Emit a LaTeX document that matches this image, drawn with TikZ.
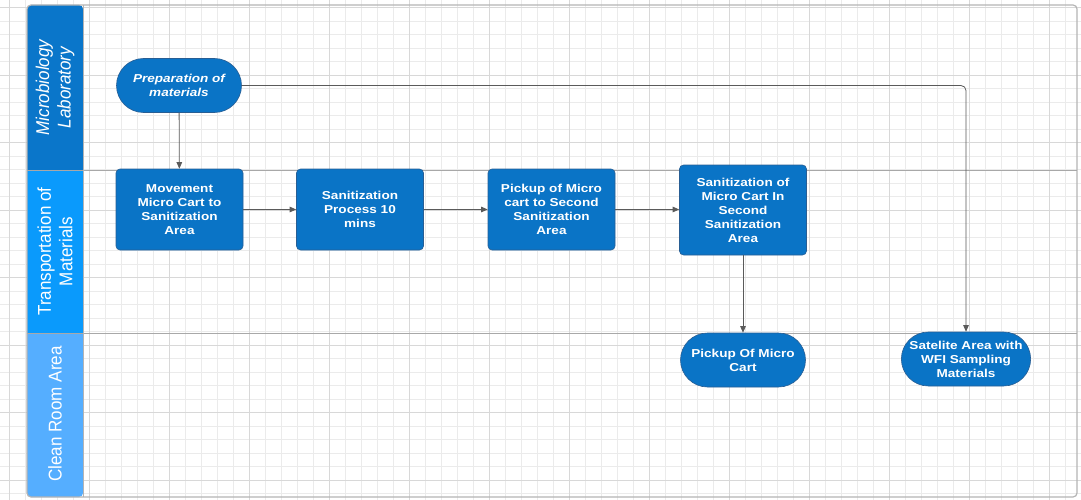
\documentclass[tikz,border=0pt]{standalone}
\usepackage{fontspec}
\usetikzlibrary{shapes.misc,arrows.meta}
\newfontfamily\boxfont[FakeStretch=1.18]{Liberation Sans}
\newfontfamily\headfont[FakeStretch=0.92]{Liberation Sans}
\definecolor{gridminor}{HTML}{EBEBEB}
\definecolor{gridmajor}{HTML}{D8D8D8}
\definecolor{framec}{HTML}{B4B4B4}
\definecolor{lanelinec}{HTML}{A8A8A8}
\definecolor{laneA}{HTML}{0A76CA}
\definecolor{laneB}{HTML}{0A9AFC}
\definecolor{laneC}{HTML}{55AEFF}
\definecolor{nodefill}{HTML}{0A74C6}
\definecolor{nodeedge}{HTML}{285E94}
\definecolor{linkc}{HTML}{5A5A5A}
\tikzset{
  procbox/.style={rectangle, rounded corners=4pt, fill=nodefill, draw=nodeedge, line width=0.6pt,
    minimum width=127pt, minimum height=81pt, inner sep=2pt, align=center, text=white,
    font=\boxfont\bfseries\fontsize{11.5}{14}\selectfont},
  termbox/.style={rounded rectangle, fill=nodefill, draw=nodeedge, line width=0.6pt,
    minimum width=127pt, minimum height=54pt, inner sep=1pt, align=center, text=white,
    font=\boxfont\bfseries\fontsize{11.5}{14}\selectfont},
  lanetext/.style={rotate=90, text=white, align=center,
    font=\headfont\fontsize{18.5}{21.5}\selectfont},
  link/.style={draw=linkc, line width=0.8pt, -{Triangle[length=6.5pt,width=5.5pt]}}
}
\begin{document}
\begin{tikzpicture}[x=1pt,y=-1pt]
\useasboundingbox (0,0) rectangle (1081,500);
\fill[white] (0,0) rectangle (1081,500);
% grid
\foreach \i in {0,...,67} {\draw[gridminor, line width=0.8pt] ({9+16*\i},0) -- ({9+16*\i},500);}
\foreach \j in {0,...,36} {\draw[gridminor, line width=0.8pt] (0,{7.7+13.5*\j}) -- (1081,{7.7+13.5*\j});}
\foreach \i in {0,...,13} {\draw[gridmajor, line width=0.8pt] ({9+80*\i},0) -- ({9+80*\i},500);}
\foreach \j in {0,...,7} {\draw[gridmajor, line width=0.8pt] (0,{7.7+67.5*\j}) -- (1081,{7.7+67.5*\j});}
% lane headers
\fill[laneA] (83,170) -- (27,170) [rounded corners=4pt] |- (83,5) [sharp corners] -- cycle;
\fill[laneB] (27,170) rectangle (83,333);
\fill[laneC] (83,333) -- (27,333) [rounded corners=4pt] |- (83,497) [sharp corners] -- cycle;
% frame and lane separators
\draw[framec, line width=1.2pt, rounded corners=4pt] (27,5) rectangle (1077,497);
\draw[lanelinec, line width=1pt] (27,170) -- (1077,170);
\draw[lanelinec, line width=1pt] (27,333) -- (1077,333);
\draw[framec, line width=1pt] (83,5) -- (83,497);
% lane titles
\node[lanetext] (l1) at (55,87.5) {\itshape Microbiology\\\itshape Laboratory};
\node[lanetext] (l2) at (55,251.5) {Transportation of\\Materials};
\node[lanetext] (l3) at (55,414) {Clean Room Area};
% nodes
\node[termbox] (prep) at (179,85.5) {\itshape Preparation of\\\itshape materials};
\node[procbox] (mov) at (179.5,209.5) {Movement\\Micro Cart to\\Sanitization\\Area};
\node[procbox] (san) at (360,209.5) {Sanitization\\Process 10\\mins};
\node[procbox] (pick) at (551.5,209.5) {Pickup of Micro\\cart to Second\\Sanitization\\Area};
\node[procbox, minimum height=90pt] (sanmc) at (743,210) {Sanitization of\\Micro Cart In\\Second\\Sanitization\\Area};
\node[termbox] (pom) at (743,360) {Pickup Of Micro\\Cart};
\node[termbox] (sat) at (966,359) {Satelite Area with\\WFI Sampling\\Materials};
% connectors
\draw[link] (prep) -- (mov);
\draw[link] (mov) -- (san);
\draw[link] (san) -- (pick);
\draw[link] (pick.east) -- (pick.east -| sanmc.west);
\draw[link] (sanmc) -- (pom);
\draw[link, rounded corners=5pt] (prep.east) -| (sat.north);
\end{tikzpicture}
\end{document}
